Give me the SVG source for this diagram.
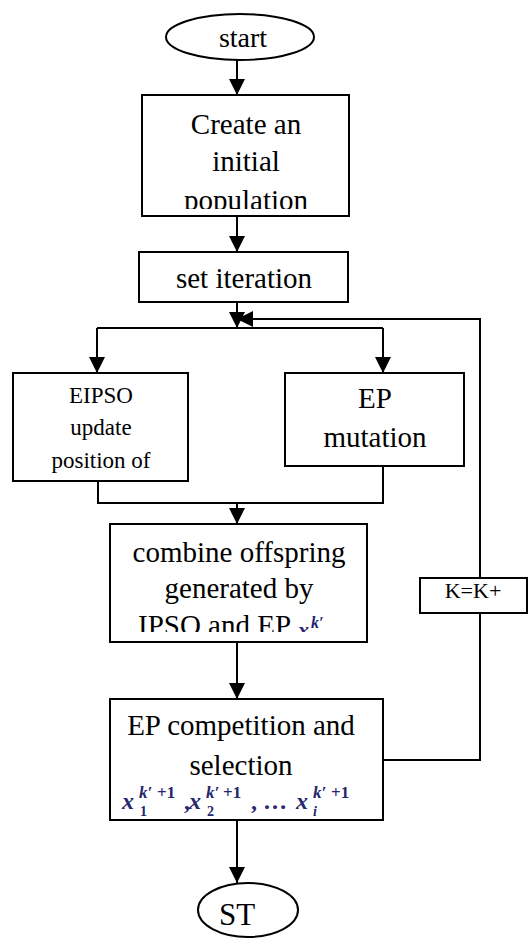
<svg xmlns="http://www.w3.org/2000/svg" width="532" height="942" viewBox="0 0 532 942">
<style>
.box{fill:#fff;stroke:#000;stroke-width:2}
.ln{fill:none;stroke:#000;stroke-width:2}
.t{font-family:"Liberation Serif","Times New Roman","DejaVu Serif",serif;fill:#000;text-anchor:middle}
.f{font-family:"Liberation Serif","Times New Roman","DejaVu Serif",serif;fill:#26266e;font-style:italic}
.n{font-style:normal}
</style>
<defs>
<marker id="ah" viewBox="0 0 16 16" markerWidth="16" markerHeight="16" markerUnits="userSpaceOnUse" refX="16" refY="8" orient="auto">
<path d="M0,0 L16,8 L0,16 z" fill="#000"/>
</marker>
<clipPath id="c1"><rect x="142" y="95" width="207" height="114"/></clipPath>
<clipPath id="c2"><rect x="110" y="524" width="257" height="108"/></clipPath>
</defs>
<rect width="532" height="942" fill="#fff"/>
<g id="connectors">
<line class="ln" x1="237" y1="60" x2="237" y2="95" marker-end="url(#ah)"/>
<line class="ln" x1="237" y1="216" x2="237" y2="252" marker-end="url(#ah)"/>
<line class="ln" x1="237" y1="302" x2="237" y2="328" marker-end="url(#ah)"/>
<line class="ln" x1="97" y1="328" x2="383" y2="328"/>
<line class="ln" x1="97" y1="328" x2="97" y2="373" marker-end="url(#ah)"/>
<line class="ln" x1="383" y1="328" x2="383" y2="373" marker-end="url(#ah)"/>
<path class="ln" d="M98,481 V503 H383 V466"/>
<line class="ln" x1="237" y1="503" x2="237" y2="524" marker-end="url(#ah)"/>
<line class="ln" x1="237" y1="642" x2="237" y2="699" marker-end="url(#ah)"/>
<line class="ln" x1="237" y1="820" x2="237" y2="883" marker-end="url(#ah)"/>
<path class="ln" d="M383,760 H480 V613"/>
<path class="ln" d="M480,578 V319 H237" marker-end="url(#ah)"/>
</g>
<g id="start">
<ellipse class="box" cx="240" cy="37" rx="74" ry="23"/>
<text class="t" x="243" y="47" font-size="28">start</text>
</g>
<g id="create">
<rect class="box" x="142" y="95" width="207" height="121"/>
<g clip-path="url(#c1)">
<text class="t" x="246" y="134" font-size="29">Create an</text>
<text class="t" x="246" y="171" font-size="29">initial</text>
<text class="t" x="246" y="210" font-size="29">population</text>
</g>
</g>
<g id="setiter">
<rect class="box" x="139" y="252" width="209" height="50"/>
<text class="t" x="244" y="288" font-size="29">set iteration</text>
</g>
<g id="eipso">
<rect class="box" x="13" y="373" width="175" height="108"/>
<text class="t" x="101" y="403" font-size="23">EIPSO</text>
<text class="t" x="101" y="435" font-size="23">update</text>
<text class="t" x="101" y="468" font-size="23">position of</text>
</g>
<g id="epmut">
<rect class="box" x="285" y="373" width="179" height="93"/>
<text class="t" x="375" y="408" font-size="29">EP</text>
<text class="t" x="375" y="447" font-size="29">mutation</text>
</g>
<g id="combine">
<rect class="box" x="110" y="524" width="257" height="118"/>
<g clip-path="url(#c2)">
<text class="t" x="239" y="562" font-size="29">combine offspring</text>
<text class="t" x="239" y="598" font-size="29">generated by</text>
<text class="t" x="138" y="635" font-size="29" style="text-anchor:start">IPSO and EP</text>
<text class="f" x="298" y="637" font-size="22" font-weight="bold">x</text>
<text class="f" x="311" y="628" font-size="16" font-weight="bold">k′</text>
</g>
</g>
<g id="kbox">
<rect class="box" x="420" y="578" width="107" height="35"/>
<text class="t" x="473" y="598" font-size="22">K=K+</text>
</g>
<g id="compet">
<rect class="box" x="110" y="699" width="273" height="121"/>
<text class="t" x="241" y="735" font-size="29">EP competition and</text>
<text class="t" x="241" y="775" font-size="29">selection</text>
<g font-weight="bold">
<text class="f" font-size="24" x="122" y="809">x</text>
<text class="f" font-size="17" x="139" y="798">k′</text>
<text class="f n" font-size="17" x="157" y="798">+1</text>
<text class="f n" font-size="14" x="140" y="816">1</text>
<text class="f n" font-size="24" x="184" y="809">,</text>
<text class="f" font-size="24" x="189" y="809">x</text>
<text class="f" font-size="17" x="206" y="798">k′</text>
<text class="f n" font-size="17" x="223" y="798">+1</text>
<text class="f n" font-size="14" x="207" y="816">2</text>
<text class="f n" font-size="24" x="251" y="809">, …</text>
<text class="f" font-size="24" x="296" y="809">x</text>
<text class="f" font-size="17" x="313" y="798">k′</text>
<text class="f n" font-size="17" x="331" y="798">+1</text>
<text class="f" font-size="14" x="313" y="816">i</text>
</g>
</g>
<g id="stop">
<ellipse class="box" cx="248" cy="910" rx="50" ry="27"/>
<text class="t" x="237" y="925" font-size="31">ST</text>
</g>
</svg>
